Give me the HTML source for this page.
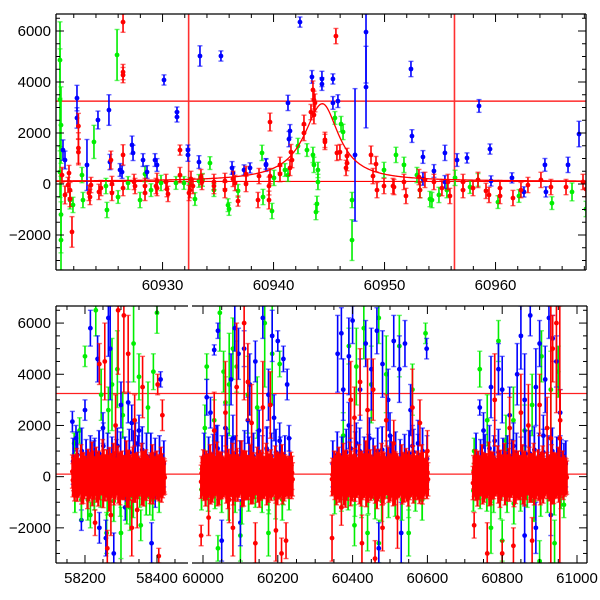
<!DOCTYPE html>
<html><head><meta charset="utf-8"><style>
html,body{margin:0;padding:0;background:#fff;width:600px;height:600px;overflow:hidden}
svg{display:block}
text{font-family:"Liberation Sans",Arial,sans-serif;font-size:15px;fill:#000}
</style></head><body>
<svg id="chart" width="600" height="600" viewBox="0 0 600 600"></svg>
<script>
// ---------------- DATA ----------------
const topYTicks = [-2000, 0, 2000, 4000, 6000];
const topXTicks = [60930, 60940, 60950, 60960];
const botXTicks = [58200, 58400, 60000, 60200, 60400, 60600, 60800, 61000];
const thresholdLevels = [3250, 100];
const topVLines = [60932.35, 60956.3];
const modelPeak = [60944.4, 3050, 100]; // t0, amplitude, baseline
const modelWidths = [2.0, 1.8]; // left, right

const topBlue = [[60921.03,1330,400],[60921.21,940,350],[60922.29,3370,500],[60922.29,2590,400],[60923.19,745,1000],[60924.18,2510,350],[60925.17,2900,600],[60925.26,860,300],[60926.17,550,250],[60926.35,470,250],[60927.25,1530,350],[60927.34,1220,300],[60928.24,940,250],[60928.6,470,250],[60929.32,940,250],[60929.5,745,250],[60930.13,4080,200],[60931.3,2820,200],[60931.3,2630,200],[60932.29,1330,200],[60932.29,1140,250],[60933.28,860,250],[60933.37,5020,400],[60935.26,5020,200],[60936.26,630,250],[60936.35,430,250],[60937.34,550,200],[60937.88,630,200],[60939.32,745,250],[60939.32,780,200],[60941.39,1760,300],[60941.48,2080,250],[60941.3,3180,300],[60942.38,6350,200],[60943.46,4200,250],[60944.36,4120,300],[60944.36,3920,250],[60945.35,4120,200],[60945.35,3180,250],[60945.8,3250,250],[60947.34,1140,2600],[60948.33,3800,1600],[60948.33,5960,2000],[60952.38,4510,300],[60952.47,1880,250],[60953.46,1060,250],[60953.46,200,250],[60954.45,510,250],[60955.44,1220,300],[60955.44,80,250],[60956.53,940,250],[60957.43,1020,200],[60958.51,3060,250],[60959.5,1370,200],[60959.59,120,200],[60961.48,240,200],[60962.56,-310,200],[60964.45,750,250],[60964.54,-310,200],[60966.53,750,300],[60967.52,1960,500]];
const topGreen = [[60920.76,4860,1500],[60920.76,3300,2000],[60920.85,2310,1500],[60920.85,-1200,1500],[60920.85,-2200,1500],[60920.76,470,1000],[60921.66,-630,350],[60921.93,-820,300],[60922.74,350,300],[60922.83,-630,300],[60923.82,1650,650],[60924.99,-1020,300],[60924.9,-80,300],[60925.9,5060,1000],[60925.99,-510,250],[60926.89,40,250],[60927.97,-630,300],[60928.42,390,300],[60928.96,-240,250],[60929.86,40,300],[60931.21,40,250],[60931.93,40,250],[60932.47,0,250],[60932.92,-590,250],[60933.28,120,250],[60933.6,160,250],[60934.27,820,250],[60934.63,-240,250],[60935.9,-830,250],[60935.99,-980,250],[60936.8,-270,250],[60938.96,1220,300],[60939.05,-510,300],[60939.86,-1060,300],[60940.04,240,300],[60941.03,550,250],[60941.3,350,250],[60942.2,1490,300],[60943.01,1330,250],[60943.55,1140,300],[60943.64,750,300],[60944.0,550,300],[60944.0,80,300],[60943.91,-780,300],[60943.82,-1100,300],[60945.53,2590,250],[60946.08,2350,300],[60946.26,2040,300],[60947.07,-630,300],[60947.07,-2200,800],[60949.95,550,300],[60951.03,1140,300],[60951.75,750,300],[60952.92,350,300],[60953.19,-240,300],[60954.09,-590,300],[60954.27,-630,300],[60954.9,-430,300],[60955.62,-240,300],[60956.35,240,300],[60957.7,-120,250],[60958.42,160,250],[60960.22,-710,250],[60962.11,-470,250],[60965.08,-750,250],[60966.89,-310,350],[60968.15,-980,300]];
const topRed = [[60920.94,350,300],[60921.21,-430,350],[60921.48,-40,300],[60921.66,-240,300],[60921.84,-1880,600],[60922.42,2270,500],[60922.42,1410,600],[60922.42,1250,500],[60921.66,-590,300],[60921.57,430,300],[60923.37,-350,300],[60923.46,-510,300],[60923.55,-40,300],[60924.27,-310,300],[60924.45,-160,300],[60925.35,940,350],[60925.44,0,300],[60925.44,-350,300],[60926.44,1140,400],[60926.44,-160,300],[60926.44,6350,400],[60926.44,4390,300],[60926.44,4270,300],[60927.43,80,300],[60927.52,-80,300],[60928.42,-80,300],[60928.42,-350,300],[60929.41,-80,300],[60929.5,120,300],[60929.5,-160,300],[60930.31,80,300],[60930.4,-200,300],[60930.49,-390,300],[60931.57,1330,200],[60931.57,350,300],[60932.47,-240,300],[60932.56,200,300],[60932.74,-80,300],[60932.38,-350,300],[60933.46,270,300],[60933.55,80,300],[60934.63,80,300],[60934.63,-80,300],[60935.62,120,300],[60935.62,-240,300],[60936.35,200,300],[60936.53,40,300],[60936.8,-670,200],[60937.52,0,300],[60937.52,390,300],[60938.6,-630,300],[60938.69,310,300],[60939.68,2430,350],[60939.59,-80,350],[60939.68,310,300],[60939.59,-630,350],[60940.58,750,300],[60940.58,390,300],[60941.48,630,300],[60941.66,940,300],[60941.57,1250,300],[60942.74,2350,350],[60942.74,2000,300],[60943.37,2820,300],[60943.64,2710,350],[60943.73,3180,350],[60943.55,3690,350],[60943.64,3290,350],[60944.63,1730,300],[60944.63,1650,300],[60945.62,5800,300],[60945.71,1220,300],[60945.98,1250,300],[60946.62,1100,300],[60946.62,820,300],[60946.53,630,300],[60948.78,1140,350],[60948.96,310,300],[60949.23,780,300],[60949.32,-240,300],[60949.95,-80,300],[60950.76,-80,300],[60950.85,-120,300],[60951.75,80,300],[60951.93,-470,300],[60953.1,270,300],[60953.19,-240,300],[60953.64,160,300],[60954.45,80,300],[60955.17,-160,300],[60955.71,80,300],[60955.89,-470,300],[60957.07,80,300],[60957.07,-240,300],[60957.97,-160,300],[60958.42,160,300],[60959.14,-270,300],[60959.41,-430,300],[60960.4,-160,300],[60960.4,-470,300],[60961.57,-550,300],[60962.29,-240,300],[60962.92,-40,300],[60964.09,160,300],[60964.99,-120,300],[60966.35,-120,300],[60967.88,80,300],[60968.15,-200,300]];

const botBlue = [[58165,2150,400],[58175,1500,500],[58200,2600,400],[58215,5800,700],[58235,4600,900],[58250,1900,600],[58265,6200,1500],[58270,5000,2000],[58300,2800,900],[58320,2900,800],[58330,2100,700],[58350,1800,600],[58385,-2600,800],[58410,3800,300],[58240,-2000,600],[58258,-2400,700],[58280,-3000,800],[58312,-1200,500],[58190,-1700,400],[58340,1300,800],[58395,-600,600],[58290,1200,700],[58225,900,500],[58360,600,700],
[60010,3100,700],[60020,2500,600],[60030,4950,200],[60040,5700,300],[60060,1900,900],[60075,3800,1000],[60085,5800,900],[60095,4800,1000],[60110,5000,700],[60125,3600,1200],[60140,4500,800],[60160,6200,800],[60175,3200,1000],[60190,2300,900],[60200,5300,400],[60215,4600,500],[60225,3600,600],[60230,1500,500],[60050,-2500,800],[60100,-1800,900],[60150,1800,800],[60185,5500,1000],[60065,800,900],[60120,2200,900],[60035,1200,800],[60080,1500,900],[60170,1100,800],[60205,1400,700],
[60360,4800,1500],[60370,5600,1000],[60375,3400,1200],[60390,4700,1500],[60400,6100,900],[60420,3400,1200],[60435,5200,900],[60450,4200,1600],[60465,5700,900],[60480,4400,1300],[60495,3000,1200],[60510,5300,1000],[60525,4200,1300],[60540,5200,900],[60555,2600,1000],[60575,1300,900],[60598,5000,400],[60390,2000,900],[60445,1500,800],[60530,-2200,1200],[60470,-2800,1000],[60410,1300,800],[60500,1600,900],[60560,1200,800],
[60740,2700,300],[60750,1800,700],[60770,3500,1200],[60790,4200,1000],[60800,3400,1300],[60820,2400,1100],[60840,4000,1200],[60850,5500,1300],[60860,3000,1800],[60875,6300,800],[60890,3500,1500],[60900,5200,900],[60915,3800,1300],[60925,6200,800],[60935,5400,900],[60945,4500,1000],[60955,2500,900],[60965,800,500],[60860,-2300,1200],[60890,-2000,1000],[60930,-1500,800],[60780,1400,800],[60830,1200,900],[60910,1600,800]];
const botGreen = [[58170,1300,400],[58200,4700,400],[58230,6500,1000],[58245,3200,1000],[58275,3600,1800],[58290,4200,1500],[58305,2400,900],[58335,5200,1500],[58350,3900,900],[58375,2700,1000],[58390,4100,700],[58400,6400,800],[58215,-1500,500],[58260,-2200,800],[58300,-2200,1000],[58355,-1900,600],[58325,-1200,900],[58380,-800,700],[58185,1800,500],[58265,2600,900],
[60010,4300,500],[60030,2200,800],[60045,6400,1500],[60055,4100,800],[60070,3600,2000],[60080,5000,1200],[60090,4300,1000],[60120,3200,1500],[60145,2700,1200],[60165,6000,2500],[60185,4800,2000],[60205,4400,500],[60040,-2800,500],[60100,-2300,1000],[60175,-2200,900],[60215,-600,500],[60060,2900,1000],[60005,1900,900],
[60375,1600,900],[60390,5100,700],[60410,4300,1500],[60430,5800,1200],[60450,3600,1500],[60470,6200,1000],[60490,4000,1500],[60525,5100,1200],[60560,3400,1000],[60595,5600,400],[60440,-2200,700],[60470,-2600,900],[60405,-1900,800],[60550,-2200,900],
[60725,1000,500],[60740,4200,700],[60760,2200,1000],[60790,5300,800],[60810,1400,1000],[60830,2200,1300],[60860,1800,1000],[60880,2800,1200],[60905,4700,1000],[60930,3400,1500],[60950,4100,1000],[60965,-1100,500],[60770,-2000,1000],[60800,-2500,800],[60900,-3300,800],[60940,-2600,900]];
const botRed = [[58228,-1800,500],[58240,4400,800],[58255,4500,1500],[58262,-2800,700],[58285,2000,1200],[58292,6500,2500],[58308,6300,3000],[58320,4800,1500],[58338,2200,1000],[58360,3500,1200],[58402,3600,400],[58405,-3100,300],[58415,2400,600],[58272,-1500,800],[58330,-2000,1100],[58345,-1300,700],
[59995,-2300,400],[60015,-1600,700],[60030,1800,1500],[60060,2500,2000],[60080,-2000,1100],[60090,3500,2500],[60110,6000,3000],[60130,2100,1500],[60140,-2600,800],[60160,2700,1800],[60180,2800,1300],[60195,-2100,1200],[60210,-3000,600],[60222,-2500,700],[60120,3700,1500],[60070,-900,900],
[60345,-2400,900],[60370,-1200,700],[60395,3000,1500],[60405,2300,1200],[60420,3700,1300],[60425,-2600,1100],[60440,2600,2000],[60455,3400,1200],[60460,-3200,700],[60490,2200,1000],[60510,1300,900],[60520,-1600,1200],[60560,2700,1500],[60580,2100,900],[60600,1000,800],[60480,-2000,900],
[60725,-1900,500],[60760,-3000,1200],[60780,3000,1800],[60800,-3000,500],[60820,1900,1200],[60830,-2700,700],[60850,2500,1500],[60870,2000,1600],[60880,-2500,900],[60900,2800,1200],[60920,1900,1200],[60935,5000,1300],[60945,6000,3500],[60955,2200,1200],[60930,1500,9000],[60954,1500,9000]];
const coreMjd = [58165,58171,58177,58183,58189,58195,58201,58207,58213,58219,58225,58231,58237,58243,58249,58255,58261,58267,58273,58279,58285,58291,58297,58303,58309,58315,58321,58327,58333,58339,58345,58351,58357,58363,58369,58375,58381,58387,58393,58399,58405,58411,58417,
59995,60001,60007,60013,60019,60025,60031,60037,60043,60049,60055,60061,60067,60073,60079,60085,60091,60097,60103,60109,60115,60121,60127,60133,60139,60145,60151,60157,60163,60169,60175,60181,60187,60193,60199,60205,60211,60217,60223,60229,60235,
60345,60351,60357,60363,60369,60375,60381,60387,60393,60399,60405,60411,60417,60423,60429,60435,60441,60447,60453,60459,60465,60471,60477,60483,60489,60495,60501,60507,60513,60519,60525,60531,60537,60543,60549,60555,60561,60567,60573,60579,60585,60591,60597,
60722,60728,60734,60740,60746,60752,60758,60764,60770,60776,60782,60788,60794,60800,60806,60812,60818,60824,60830,60836,60842,60848,60854,60860,60866,60872,60878,60884,60890,60896,60902,60908,60914,60920,60926,60932,60938,60944,60950,60956,60962,60968];
const coreFlux = [200,-300,450,-100,600,-400,150,-600,300,700,-200,500,-500,100,800,-300,400,-700,250,650,-150,550,-450,350,-250,750,-550,200,500,-350,300,-100,650,-500,400,150,-400,600,-200,350,-300,500,100,
-200,400,-500,250,600,-350,150,700,-450,300,-150,550,-600,200,650,-300,450,-100,750,-500,350,-250,600,-400,100,500,-550,300,-200,650,-350,400,-100,550,-450,250,600,-300,150,-200,300,
-100,350,-450,500,-250,650,-550,200,700,-300,450,-150,600,-500,250,750,-350,400,-200,550,-600,300,650,-400,100,500,-300,700,-450,250,-150,600,-350,450,-500,200,550,-250,350,-400,600,-100,300,
-250,400,-500,150,600,-350,250,700,-450,300,-100,550,-550,200,650,-300,450,-150,750,-400,350,-250,600,-500,100,500,-350,650,-200,400,-450,550,-100,300,-300,600,-400,250,500,-150,350,100];
const coreErr = 650;
const coreCopies = [[0,1.0],[1.5,-0.7],[3,0.5],[4.5,-0.35]]; // day offset, flux factor for dense overlapping visits

// ---------------- GEOMETRY ----------------
const svg = document.getElementById('chart');
const NS = 'http://www.w3.org/2000/svg';
const YMIN = -3373, YMAX = 6667;
const T = {x0:56, x1:586, y0:14, y1:270, tmin:60920.4, tmax:60968.15};
const B = {y0:306, y1:563};
const seg1 = {x0:56, x1:188, t0:58119.5, k:0.36};
const seg2 = {x0:192, x1:587, t0:60000, p0:203, k:0.374};

function clampV(v){ return Math.max(YMIN, Math.min(YMAX, v)); }
function ty(v){ v = clampV(v); return T.y1 - (v - YMIN) / (YMAX - YMIN) * (T.y1 - T.y0); }
function by(v){ v = clampV(v); return B.y1 - (v - YMIN) / (YMAX - YMIN) * (B.y1 - B.y0); }
function tx(t){ return T.x0 + (t - T.tmin) / (T.tmax - T.tmin) * (T.x1 - T.x0); }
function bx(t){ if (t < 59000) return seg1.x0 + (t - seg1.t0) * seg1.k; return seg2.p0 + (t - seg2.t0) * seg2.k; }

function mk(tag, attrs, parent){ const e = document.createElementNS(NS, tag); for (const k in attrs) e.setAttribute(k, attrs[k]); (parent||svg).appendChild(e); return e; }

const defs = mk('defs', {});
const cp1 = mk('clipPath', {id:'clipTop'}, defs); mk('rect', {x:T.x0, y:T.y0, width:T.x1-T.x0, height:T.y1-T.y0}, cp1);
const cp2 = mk('clipPath', {id:'clipBot'}, defs); mk('rect', {x:56, y:B.y0, width:531, height:B.y1-B.y0}, cp2);

const gTop = mk('g', {'clip-path':'url(#clipTop)'});


const gBot = mk('g', {'clip-path':'url(#clipBot)'});



function point(g, x, y, yl, yh, col, name, sw){
  const grp = mk('g', {}, g);
  
  
  mk('line', {x1:x, x2:x, y1:yl, y2:yh, stroke:col, 'stroke-width':sw||1.6}, grp);
  mk('line', {x1:x-2.5, x2:x+2.5, y1:yl, y2:yl, stroke:col, 'stroke-width':1.4, 'stroke-opacity':0.6}, grp);
  mk('line', {x1:x-2.5, x2:x+2.5, y1:yh, y2:yh, stroke:col, 'stroke-width':1.4, 'stroke-opacity':0.6}, grp);
  mk('circle', {cx:x, cy:y, r:2.4, fill:col}, grp);
}

for (const lv of thresholdLevels){
  const l1 = mk('line', {x1:T.x0, x2:T.x1, y1:ty(lv), y2:ty(lv), stroke:'#ff0000', 'stroke-width':1.2}, gTop);
  
  
  const l2 = mk('line', {x1:56, x2:587, y1:by(lv), y2:by(lv), stroke:'#ff2020', 'stroke-width':1.2}, gBot);
  
  
}
for (const t of topVLines){
  const v = mk('line', {x1:tx(t), x2:tx(t), y1:T.y0, y2:T.y1, stroke:'#ff3030', 'stroke-width':1.6}, gTop);
  
  
}

const colors = {blue:'#0000ff', green:'#00ee00', red:'#ff0000'};
function drawTop(arr, col, name){ for (const d of arr) point(gTop, tx(d[0]), ty(d[1]), ty(d[1]-d[2]), ty(d[1]+d[2]), col, name); }
drawTop(topGreen, colors.green, 'top-green-point');
drawTop(topBlue, colors.blue, 'top-blue-point');
drawTop(topRed, colors.red, 'top-red-point');

let pd = '';
for (let i = 0; i <= 400; i++){
  const t = T.tmin + (T.tmax - T.tmin) * i / 400;
  const w = t < modelPeak[0] ? modelWidths[0] : modelWidths[1];
  const v = modelPeak[2] + modelPeak[1] / (1 + Math.pow((t - modelPeak[0]) / w, 2));
  pd += (i ? 'L' : 'M') + tx(t).toFixed(2) + ' ' + ty(v).toFixed(2);
}
const model = mk('path', {d:pd, fill:'none', stroke:'#ff0000', 'stroke-width':1.3}, gTop);



function drawBot(arr, col, name){ for (const d of arr) point(gBot, bx(d[0]), by(d[1]), by(d[1]-d[2]), by(d[1]+d[2]), col, name); }
drawBot(botGreen, colors.green, 'bottom-green-point');
drawBot(botBlue, colors.blue, 'bottom-blue-point');
for (let i = 0; i < coreMjd.length; i += 2){
  const f = Math.abs(coreFlux[i]) + 400;
  point(gBot, bx(coreMjd[i]+2), by(f), by(f-900), by(f+900), colors.blue, 'bottom-blue-core-point', 1.8);
}
for (let i = 1; i < coreMjd.length; i += 3){
  const f = -Math.abs(coreFlux[i]) - 300;
  point(gBot, bx(coreMjd[i]+1), by(f), by(f-800), by(f+800), colors.green, 'bottom-green-core-point', 1.8);
}
for (let i = 0; i < coreMjd.length; i++){
  for (const c of coreCopies){
    const f = coreFlux[i] * c[1];
    point(gBot, bx(coreMjd[i]+c[0]), by(f), by(f-coreErr), by(f+coreErr), colors.red, 'bottom-red-core-point', 2.2);
  }
}
drawBot(botRed, colors.red, 'bottom-red-point');

// ---------------- AXES ----------------
function frame(x0, x1, y0, y1, name, openL, openR){
  const g = mk('g', {});
  
  
  mk('line', {x1:x0, x2:x1, y1:y0, y2:y0, stroke:'#000', 'stroke-width':1.3}, g);
  mk('line', {x1:x0, x2:x1, y1:y1, y2:y1, stroke:'#000', 'stroke-width':1.3}, g);
  if (!openL) mk('line', {x1:x0, x2:x0, y1:y0, y2:y1, stroke:'#000', 'stroke-width':1.3}, g);
  if (!openR) mk('line', {x1:x1, x2:x1, y1:y0, y2:y1, stroke:'#000', 'stroke-width':1.3}, g);
  return g;
}
const fTop = frame(T.x0, T.x1, T.y0, T.y1, 'top-axes-frame');
const fB1 = frame(56, 188, B.y0, B.y1, 'bottom-axes-frame-left', false, true);
const fB2 = frame(192, 587, B.y0, B.y1, 'bottom-axes-frame-right', true, false);

function yAxis(g, yf, x0, x1, y0, y1, name){
  for (let v = -3000; v <= 6500; v += 500){
    const y = yf(v); if (y < y0 || y > y1) continue;
    const len = v % 2000 === 0 ? 8 : 4;
    mk('line', {x1:x0, x2:x0+len, y1:y, y2:y, stroke:'#000', 'stroke-width':1}, g);
    if (x1 < 600) mk('line', {x1:x1, x2:x1-len, y1:y, y2:y, stroke:'#000', 'stroke-width':1}, g);
  }
  for (const v of topYTicks){
    const t = mk('text', {x:x0-5, y:yf(v)+5, 'text-anchor':'end'});
    t.textContent = v < 0 ? '\u2212' + Math.abs(v) : String(v);
    
    
  }
}
yAxis(fTop, ty, T.x0, T.x1, T.y0, T.y1, 'top-y-tick-label');
yAxis(fB1, by, 56, 9999, B.y0, B.y1, 'bottom-y-tick-label');
for (let v = -3000; v <= 6500; v += 500){
  const y = by(v); const len = v % 2000 === 0 ? 8 : 4;
  mk('line', {x1:587, x2:587-len, y1:y, y2:y, stroke:'#000', 'stroke-width':1}, fB2);
}

for (let t = 60922; t <= 60968; t += 2){
  const x = tx(t); const len = t % 10 === 0 ? 8 : 4;
  mk('line', {x1:x, x2:x, y1:T.y1, y2:T.y1-len, stroke:'#000', 'stroke-width':1}, fTop);
  mk('line', {x1:x, x2:x, y1:T.y0, y2:T.y0+len, stroke:'#000', 'stroke-width':1}, fTop);
}
for (const t of topXTicks){
  const e = mk('text', {x:tx(t), y:290, 'text-anchor':'middle'});
  e.textContent = String(t);
  
  
}
for (let t = 58150; t <= 61050; t += 50){
  if (t > 58480 && t < 59980) continue;
  const x = bx(t);
  if (t < 59000 && (x < 56 || x > 188)) continue;
  if (t > 59000 && (x < 192 || x > 587)) continue;
  const len = t % 200 === 0 ? 8 : 4;
  const g = t < 59000 ? fB1 : fB2;
  mk('line', {x1:x, x2:x, y1:B.y1, y2:B.y1-len, stroke:'#000', 'stroke-width':1}, g);
  mk('line', {x1:x, x2:x, y1:B.y0, y2:B.y0+len, stroke:'#000', 'stroke-width':1}, g);
}
for (const t of botXTicks){
  const e = mk('text', {x:bx(t), y:583, 'text-anchor':'middle'});
  e.textContent = String(t);
  
  
}
</script>
</body></html>
